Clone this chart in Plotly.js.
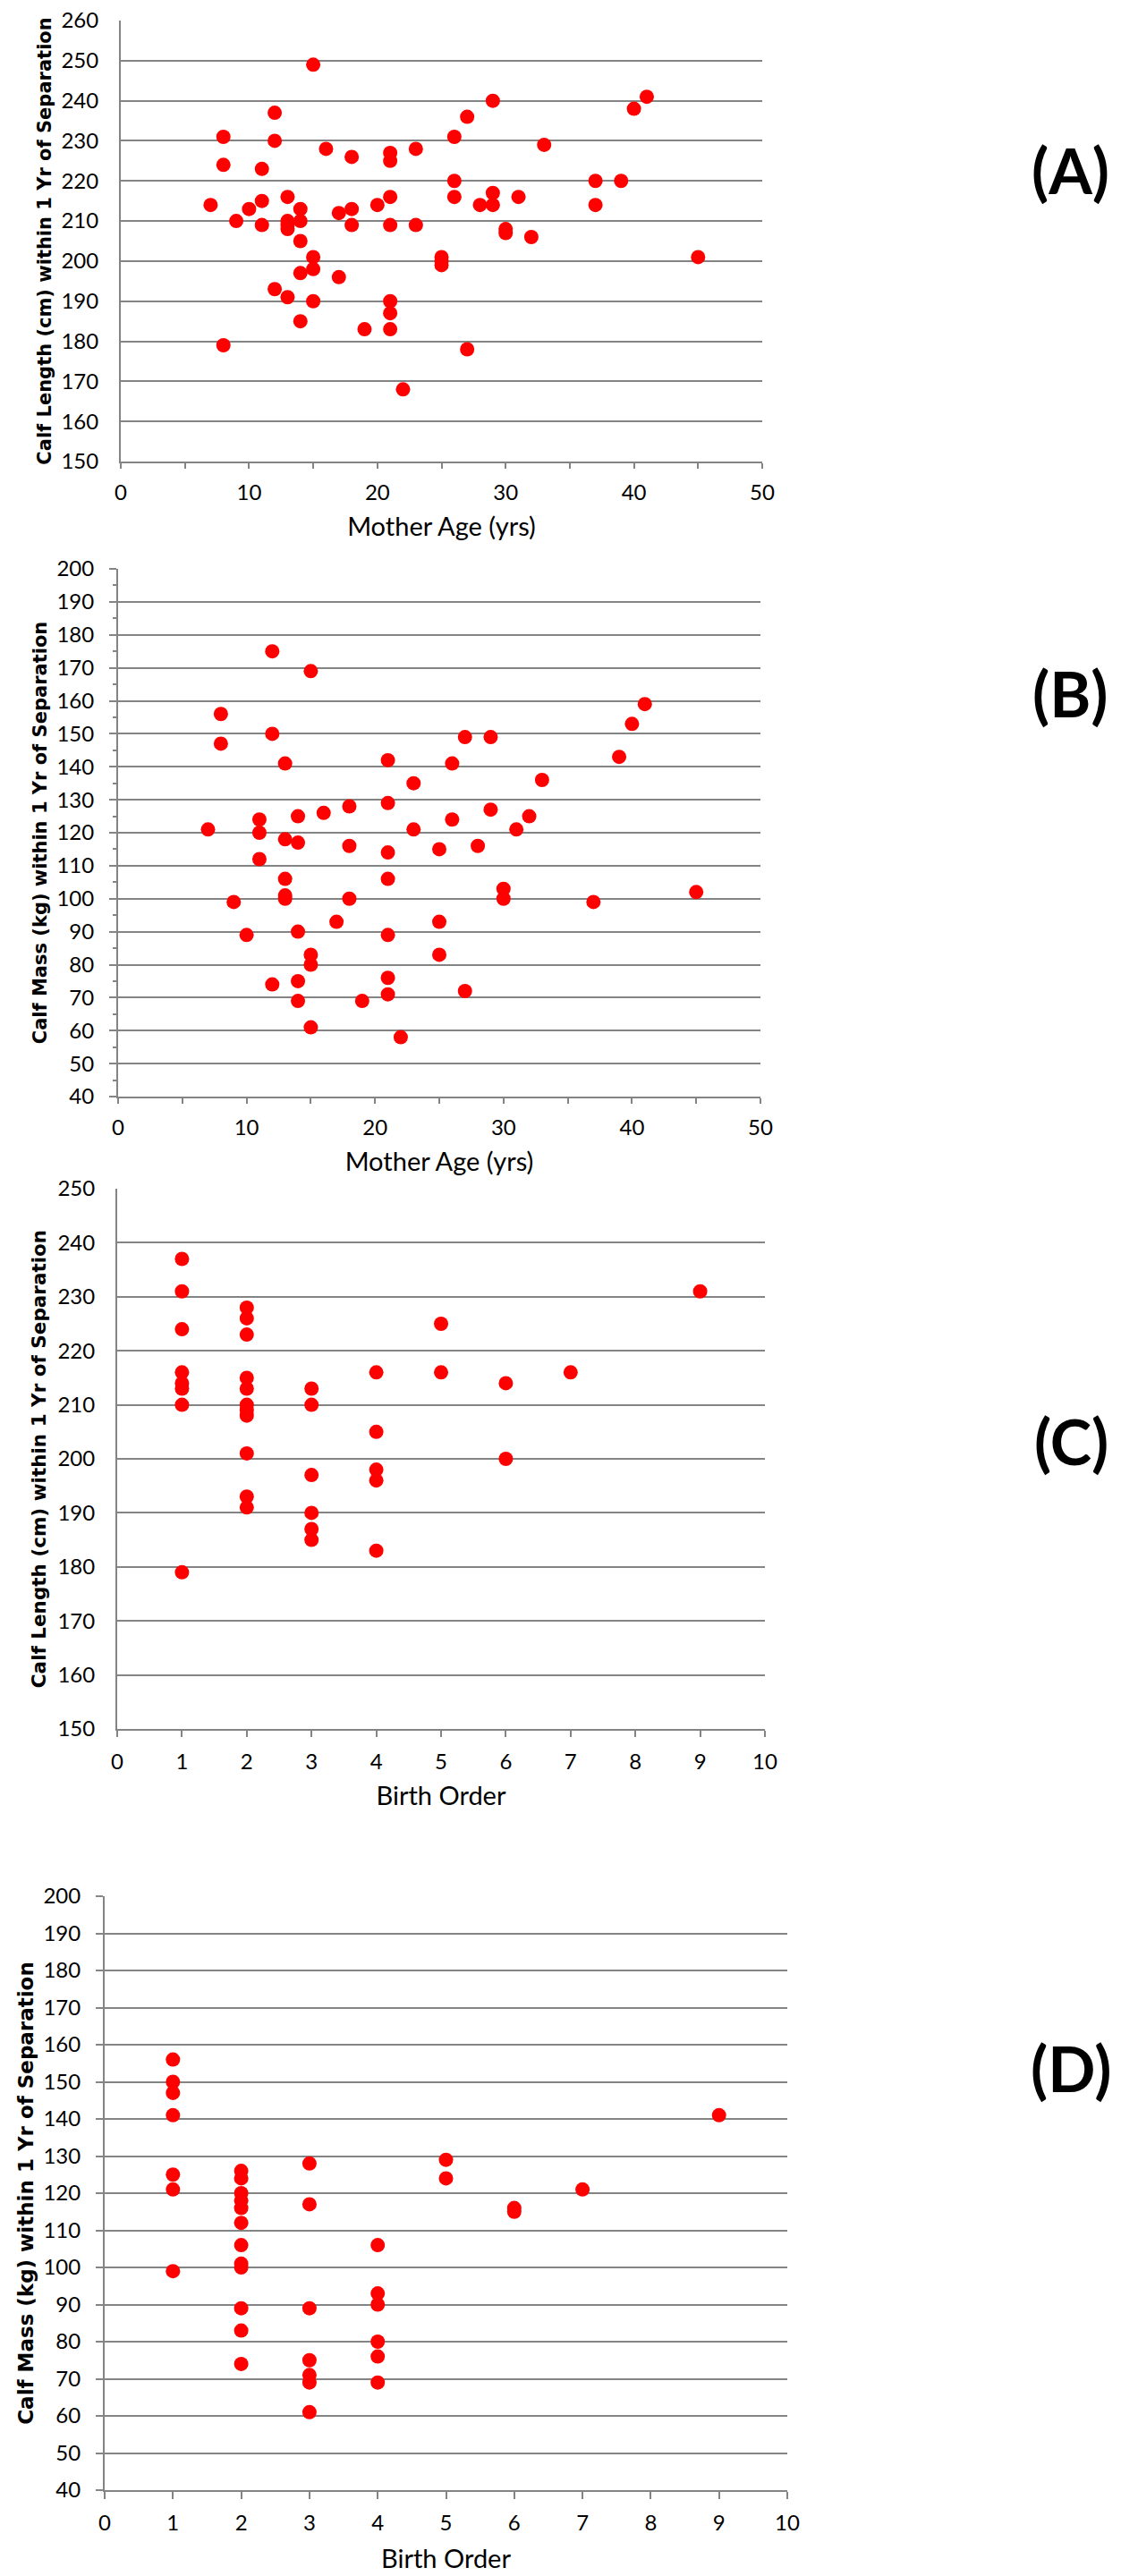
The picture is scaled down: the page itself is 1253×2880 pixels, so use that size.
<!DOCTYPE html>
<html>
<head>
<meta charset="utf-8">
<script src="https://cdn.plot.ly/plotly-3.0.1.min.js"></script>
<style>
  html, body { margin: 0; padding: 0; background: #ffffff; }
  #chart { width: 1253px; height: 2880px; }
</style>
</head>
<body>
<div id="chart"></div>
<script>
// ---------- Data ----------
// Panel A: Mother age vs calf length
const ageA = [7,8,8,8,9,10,11,11,11,12,12,12,13,13,13,13,13,14,14,14,14,14,15,15,15,15,16,17,17,18,18,18,19,20,21,21,21,21,21,21,21,22,23,23,25,25,25,26,26,26,27,27,28,29,29,29,30,30,31,32,33,37,37,39,40,41,45];
const lengthA = [214,231,224,179,210,213,223,215,209,237,230,193,216,210,209,208,191,213,210,205,197,185,249,201,198,190,228,212,196,226,213,209,183,214,227,225,216,209,190,187,183,168,228,209,201,200,199,231,220,216,236,178,214,240,217,214,208,207,216,206,229,220,214,220,238,241,201];

// Panel B: Mother age vs calf mass
const ageB = [7,8,8,9,10,11,11,11,12,12,12,13,13,13,13,13,14,14,14,14,14,15,15,15,15,16,17,18,18,18,19,21,21,21,21,21,21,21,22,23,23,25,25,25,26,26,27,27,28,29,29,30,30,31,32,33,37,39,40,41,45];
const massB = [121,156,147,99,89,124,120,112,175,150,74,141,118,106,101,100,125,117,90,75,69,169,83,80,61,126,93,128,116,100,69,142,129,114,106,89,76,71,58,135,121,115,93,83,141,124,149,72,116,149,127,103,100,121,125,136,99,143,153,159,102];

// Panel C: Birth order vs calf length
const orderC = [1,1,1,1,1,1,1,1,2,2,2,2,2,2,2,2,2,2,2,3,3,3,3,3,3,4,4,4,4,4,5,5,6,6,7,9];
const lengthC = [237,231,224,216,214,213,210,179,228,226,223,215,213,210,209,208,201,193,191,213,210,197,190,187,185,216,205,198,196,183,225,216,214,200,216,231];

// Panel D: Birth order vs calf mass
const orderD = [1,1,1,1,1,1,1,2,2,2,2,2,2,2,2,2,2,2,2,3,3,3,3,3,3,3,4,4,4,4,4,4,5,5,6,6,7,9];
const massD = [156,150,147,141,125,121,99,126,124,120,118,116,112,106,101,100,89,83,74,128,117,89,75,71,69,61,106,93,90,80,76,69,129,124,116,115,121,141];

// Text
const panelLabels = ["(A)", "(B)", "(C)", "(D)"];
const yTitleLength = "Calf Length (cm) within 1 Yr of Separation";
const yTitleMass = "Calf Mass (kg) within 1 Yr of Separation";
const xTitleAge = "Mother Age (yrs)";
const xTitleOrder = "Birth Order";

// ---------- Styling ----------
const W = 1253, H = 2880;
const GRAY = "#848484";
const RED = "#ff0000";
const TICKFONT = { family: "Lato, 'Open Sans', sans-serif", size: 24, color: "#000000" };
const XTITLEFONT = { family: "Lato, 'Open Sans', sans-serif", size: 29, color: "#000000" };

function px2x(a, b) { return [a / W, b / W]; }
function px2y(top, bottom) { return [1 - bottom / H, 1 - top / H]; }

function marker() { return { color: RED, size: 16, line: { width: 0 } }; }

const traces = [
  { type: "scatter", mode: "markers", x: ageA, y: lengthA, xaxis: "x", yaxis: "y", marker: marker(), hoverinfo: "x+y" },
  { type: "scatter", mode: "markers", x: ageB, y: massB, xaxis: "x2", yaxis: "y2", marker: marker(), hoverinfo: "x+y" },
  { type: "scatter", mode: "markers", x: orderC, y: lengthC, xaxis: "x3", yaxis: "y3", marker: marker(), hoverinfo: "x+y" },
  { type: "scatter", mode: "markers", x: orderD, y: massD, xaxis: "x4", yaxis: "y4", marker: marker(), hoverinfo: "x+y" }
];

function xAxis(domain, range, dtick, minorDtick, title, ticklen, titleStandoff, labelStandoff, anchor) {
  const ax = {
    domain: domain, range: range, dtick: dtick, tick0: 0, anchor: anchor,
    showgrid: false, zeroline: false, showline: true, linecolor: GRAY, linewidth: 2,
    ticks: "outside", ticklen: ticklen, tickwidth: 2, tickcolor: GRAY,
    tickfont: TICKFONT, ticklabelstandoff: labelStandoff,
    title: { text: title, font: XTITLEFONT, standoff: titleStandoff },
    fixedrange: true
  };
  if (minorDtick) {
    ax.minor = { dtick: minorDtick, ticks: "outside", ticklen: ticklen, tickwidth: 2, tickcolor: GRAY, showgrid: false };
  }
  return ax;
}

function yAxis(domain, range, title, titleSize, ticksOn, minorOn, titleStandoff, labelStandoff, anchor) {
  const ax = {
    domain: domain, range: range, dtick: 10, tick0: 0, anchor: anchor,
    showgrid: true, gridcolor: GRAY, gridwidth: 2, zeroline: false,
    showline: true, linecolor: GRAY, linewidth: 2,
    ticks: ticksOn ? "outside" : "", ticklen: ticksOn ? 8 : 0, tickwidth: 2, tickcolor: GRAY,
    tickfont: TICKFONT, ticklabelstandoff: labelStandoff,
    title: { text: title, font: { family: "'DejaVu Sans', Verdana, sans-serif", size: titleSize, color: "#000000", weight: "bold" }, standoff: titleStandoff },
    fixedrange: true
  };
  if (minorOn) {
    ax.minor = { dtick: 5, ticks: "outside", ticklen: 4, tickwidth: 2, tickcolor: GRAY, showgrid: false };
  }
  return ax;
}

const layout = {
  width: W, height: H,
  margin: { l: 0, r: 0, t: 0, b: 0, pad: 0 },
  paper_bgcolor: "#ffffff", plot_bgcolor: "#ffffff",
  showlegend: false,
  xaxis:  xAxis(px2x(135, 852), [0, 50], 10, 5, xTitleAge, 6, 16, 6, "y"),
  yaxis:  yAxis(px2y(23, 516), [150, 260], yTitleLength, 21, false, false, 5, 18, "x"),
  xaxis2: xAxis(px2x(132, 850), [0, 50], 10, 5, xTitleAge, 6, 16, 6, "y2"),
  yaxis2: yAxis(px2y(636, 1226), [40, 200], yTitleMass, 21, true, true, 5, 12, "x2"),
  xaxis3: xAxis(px2x(131, 855), [0, 10], 1, null, xTitleOrder, 7, 16, 7, "y3"),
  yaxis3: yAxis(px2y(1329, 1933), [150, 250], yTitleLength, 21.5, false, false, 7, 18, "x3"),
  xaxis4: xAxis(px2x(117, 880), [0, 10], 1, null, xTitleOrder, 8, 18, 6, "y4"),
  yaxis4: yAxis(px2y(2120, 2784), [40, 200], yTitleMass, 23, true, false, 4, 12, "x4"),
  annotations: [
    { text: panelLabels[0], x: 1196 / W, y: 1 - 190 / H },
    { text: panelLabels[1], x: 1196 / W, y: 1 - 775 / H },
    { text: panelLabels[2], x: 1197 / W, y: 1 - 1611 / H },
    { text: panelLabels[3], x: 1197 / W, y: 1 - 2312 / H }
  ].map(a => Object.assign(a, {
    xref: "paper", yref: "paper", xanchor: "center", yanchor: "middle", showarrow: false,
    font: { family: "Lato, 'Liberation Sans', sans-serif", size: 70, color: "#000000", weight: "bold" }
  }))
};

Plotly.newPlot("chart", traces, layout, { staticPlot: true, displayModeBar: false });
</script>
</body>
</html>
